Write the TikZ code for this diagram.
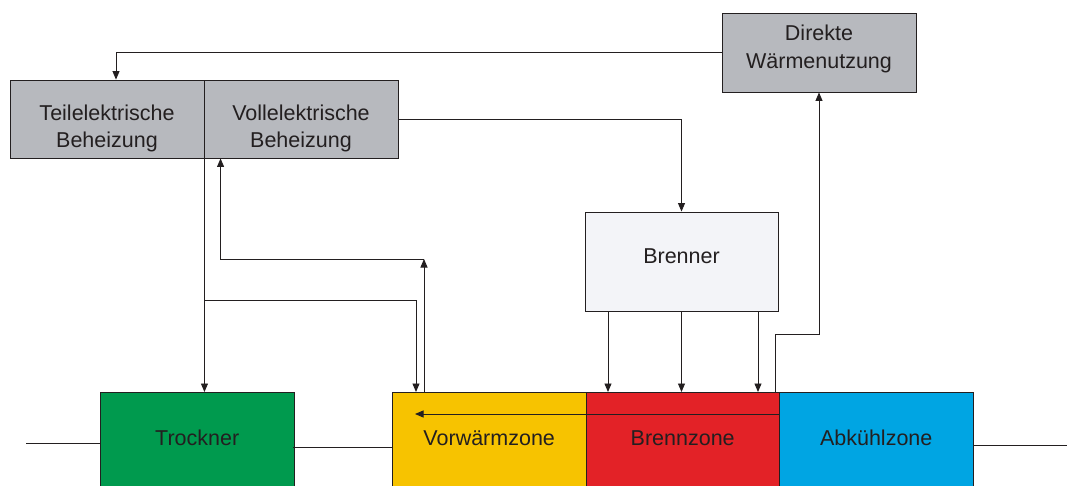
\documentclass[tikz,border=0pt]{standalone}
\usepackage{fontspec}
\setmainfont{Liberation Sans}
\usetikzlibrary{arrows.meta,calc}
\definecolor{boxgray}{HTML}{B7B9BE}
\definecolor{brennfill}{HTML}{F3F4F8}
\definecolor{zgreen}{HTML}{009A4E}
\definecolor{zyellow}{HTML}{F7C300}
\definecolor{zred}{HTML}{E32227}
\definecolor{zblue}{HTML}{00A5E3}
\definecolor{ink}{HTML}{231F20}
\tikzset{
  box/.style={draw=ink, line width=0.9pt, inner sep=0pt},
  graybox/.style={box, fill=boxgray, minimum width=194pt, minimum height=78pt},
  zone/.style={box, anchor=north west, minimum width=193.5pt, minimum height=140pt},
  ztext/.style={text=ink, align=center, font=\fontsize{21.5}{26.5}\selectfont, inner sep=0pt},
  arr/.style={draw=ink, line width=0.9pt, -{Triangle[length=8.5pt,width=7pt]}},
  ln/.style={draw=ink, line width=0.9pt}
}
\begin{document}
\begin{tikzpicture}[x=1pt,y=-1pt]
\clip (0,0) rectangle (1067,486);
\fill[white] (0,0) rectangle (1067,486);

% top boxes
\node[graybox] (teil) at (107,119) {};
\node[graybox] (voll) at (301,119) {};
\node[graybox, minimum height=79pt] (dir) at (819,52.5) {};
\node[box, fill=brennfill, minimum width=193pt, minimum height=99pt] (bren) at (681.5,261.5) {};
\node[ztext] (teilT) at ([yshift=-9.5pt]teil.center) {Teilelektrische\\Beheizung};
\node[ztext] (vollT) at ([yshift=-9.5pt]voll.center) {Vollelektrische\\Beheizung};
\node[ztext, font=\fontsize{21.5}{28}\selectfont] (dirT) at ([yshift=3.5pt]dir.center) {Direkte\\Wärmenutzung};
\node[ztext] (brenT) at ([yshift=5pt]bren.center) {Brenner};

% zones
\node[zone, fill=zgreen] (trock) at (100,392) {};
\node[zone, fill=zyellow] (vor) at (392,392) {};
\node[zone, fill=zred] (brz) at (585.5,392) {};
\node[zone, fill=zblue] (abk) at (779,392) {};
\node[ztext] (trockT) at ([yshift=-46pt]trock.north) {Trockner};
\node[ztext] (vorT) at ([yshift=-46pt]vor.north) {Vorwärmzone};
\node[ztext] (brzT) at ([yshift=-46pt]brz.north) {Brennzone};
\node[ztext] (abkT) at ([yshift=-46pt]abk.north) {Abkühlzone};

% material line
\coordinate (inL) at (26,443);
\coordinate (m1) at (293,447);
\coordinate (outR) at (1067,445);
\draw[ln] (inL) -- (inL -| trock.west);
\draw[ln] (m1) -- (m1 -| vor.west);
\draw[ln] (abk.east |- outR) -- (outR);

% connectors
\draw[arr] (dir.west) -| ([xshift=9pt]teil.north);
\draw[arr] (voll.east) -| (bren.north);
\draw[arr] ([xshift=-73.5pt]bren.south) -- ([xshift=-73.5pt]bren.south |- brz.north);
\draw[arr] (bren.south) -- (bren.south |- brz.north);
\draw[arr] ([xshift=76.5pt]bren.south) -- ([xshift=76.5pt]bren.south |- brz.north);
\draw[arr] ([xshift=-4pt]brz.north east) -- ++(0,-58) -| (dir.south);

\draw[arr] (teil.south east) -- (teil.south east |- trock.north);
\coordinate (br1) at (204,300);
\draw[arr] (br1) -| ([xshift=24pt]vor.north west);
\draw[arr] ([xshift=32pt]vor.north west) -- ++(0,-133) coordinate (c2);
\draw[arr] (c2) -| ([xshift=17pt]voll.south west);

\draw[arr] ([yshift=-22pt]brz.north east) -- ([yshift=-22pt,xshift=23pt]vor.north west);
\end{tikzpicture}
\end{document}
